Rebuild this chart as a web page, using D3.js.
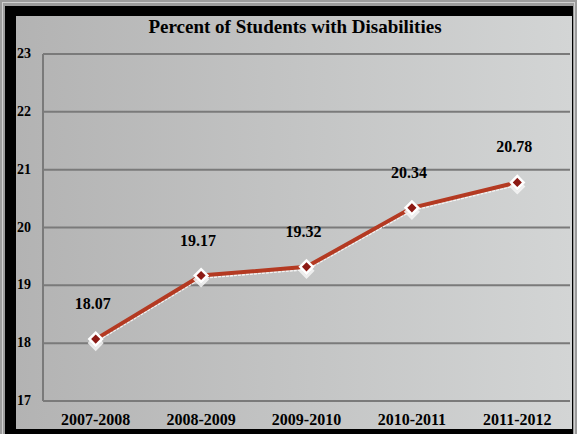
<!DOCTYPE html>
<html>
<head>
<meta charset="utf-8">
<script src="https://cdn.jsdelivr.net/npm/d3@7"></script>
<style>
  html, body { margin: 0; padding: 0; background: #9c9c9c; }
  svg { display: block; }
  svg text { font-family: "Liberation Serif", "Times New Roman", "DejaVu Serif", serif; font-weight: bold; fill: #000; }
</style>
</head>
<body>
<div id="chart"></div>
<script>
const years = ["2007-2008", "2008-2009", "2009-2010", "2010-2011", "2011-2012"];
const percents = [18.07, 19.17, 19.32, 20.34, 20.78];
const yTicks = [17, 18, 19, 20, 21, 22, 23];
const chartTitle = "Percent of Students with Disabilities";

const width = 577, height = 434;
const margin = {top: 54, right: 7, bottom: 33, left: 43};
const serif = "'Liberation Serif', 'Times New Roman', 'DejaVu Serif', serif";

const svg = d3.select("#chart")
    .append("svg")
    .attr("width", width)
    .attr("height", height);

// gradient background
const defs = svg.append("defs");
const grad = defs.append("linearGradient")
    .attr("id", "bg")
    .attr("x1", "0%").attr("x2", "100%")
    .attr("y1", "0%").attr("y2", "0%");
grad.append("stop").attr("offset", "0%").attr("stop-color", "#b3b3b3");
grad.append("stop").attr("offset", "100%").attr("stop-color", "#d3d5d5");

// outer frame
svg.append("rect").attr("x", 0).attr("y", 0).attr("width", width).attr("height", height).attr("fill", "#9c9c9c");
svg.append("rect").attr("x", 2.5).attr("y", 2.5).attr("width", width - 5).attr("height", height)
    .attr("fill", "none").attr("stroke", "#d0d0d0").attr("stroke-width", 1);
svg.append("rect").attr("x", 5).attr("y", 6).attr("width", width - 9).attr("height", height - 6).attr("fill", "#000");
svg.append("rect").attr("x", 16).attr("y", 16).attr("width", 556).attr("height", 413).attr("fill", "url(#bg)");

const x = d3.scaleBand()
    .domain(years)
    .range([margin.left, width - margin.right])
    .padding(0);

const y = d3.scaleLinear()
    .domain([17, 23])
    .range([height - margin.bottom, margin.top]);

// gridlines
svg.append("g")
    .selectAll("line")
    .data(yTicks)
    .join("line")
    .attr("x1", margin.left)
    .attr("x2", width - margin.right)
    .attr("y1", d => y(d))
    .attr("y2", d => y(d))
    .attr("stroke", "#7a7a7a")
    .attr("stroke-width", 2);

// left axis line
svg.append("line")
    .attr("x1", margin.left).attr("x2", margin.left)
    .attr("y1", y(23)).attr("y2", y(17))
    .attr("stroke", "#7a7a7a")
    .attr("stroke-width", 2);

// y tick labels
svg.append("g")
    .selectAll("text")
    .data(yTicks)
    .join("text")
    .attr("x", 17)
    .attr("y", d => y(d) + 4)
    .style("font-family", serif)
    .style("font-size", "14px")
    .text(d => d);

// x category labels
svg.append("g")
    .selectAll("text")
    .data(years)
    .join("text")
    .attr("x", d => x(d) + x.bandwidth() / 2)
    .attr("y", 425)
    .attr("text-anchor", "middle")
    .style("font-family", serif)
    .style("font-size", "16px")
    .text(d => d);

// title
svg.append("text")
    .attr("x", 295)
    .attr("y", 33)
    .attr("text-anchor", "middle")
    .style("font-family", serif)
    .style("font-size", "19px")
    .text(chartTitle);

const pts = years.map((d, i) => ({year: d, value: percents[i]}));
const cx = d => x(d.year) + x.bandwidth() / 2;

const line = d3.line()
    .x(cx)
    .y(d => y(d.value));

// line shadow
svg.append("path")
    .datum(pts)
    .attr("d", line)
    .attr("transform", "translate(0,2)")
    .attr("fill", "none")
    .attr("stroke", "#f4f4f4")
    .attr("stroke-width", 3)
    .attr("stroke-dasharray", "3,1");

svg.append("path")
    .datum(pts)
    .attr("d", line)
    .attr("fill", "none")
    .attr("stroke", "#b43a22")
    .attr("stroke-width", 4);

const diamond = d3.symbol().type(d3.symbolSquare).size(80);

// marker shadows
svg.append("g")
    .selectAll("path")
    .data(pts)
    .join("path")
    .attr("d", diamond)
    .attr("transform", d => `translate(${cx(d)},${y(d.value) + 4}) rotate(45)`)
    .attr("fill", "#e8e8e8")
    .attr("stroke", "#f6f6f6")
    .attr("stroke-width", 2.5)
    .attr("opacity", 0.85);

svg.append("g")
    .selectAll("path")
    .data(pts)
    .join("path")
    .attr("d", diamond)
    .attr("transform", d => `translate(${cx(d)},${y(d.value)}) rotate(45)`)
    .attr("fill", "#8c1a14")
    .attr("stroke", "#ffffff")
    .attr("stroke-width", 2.5);

// data labels
svg.append("g")
    .selectAll("text")
    .data(pts)
    .join("text")
    .attr("x", d => cx(d) - 3)
    .attr("y", d => y(d.value) - 30)
    .attr("text-anchor", "middle")
    .style("font-family", serif)
    .style("font-size", "16px")
    .text(d => d.value.toFixed(2));
</script>
</body>
</html>
